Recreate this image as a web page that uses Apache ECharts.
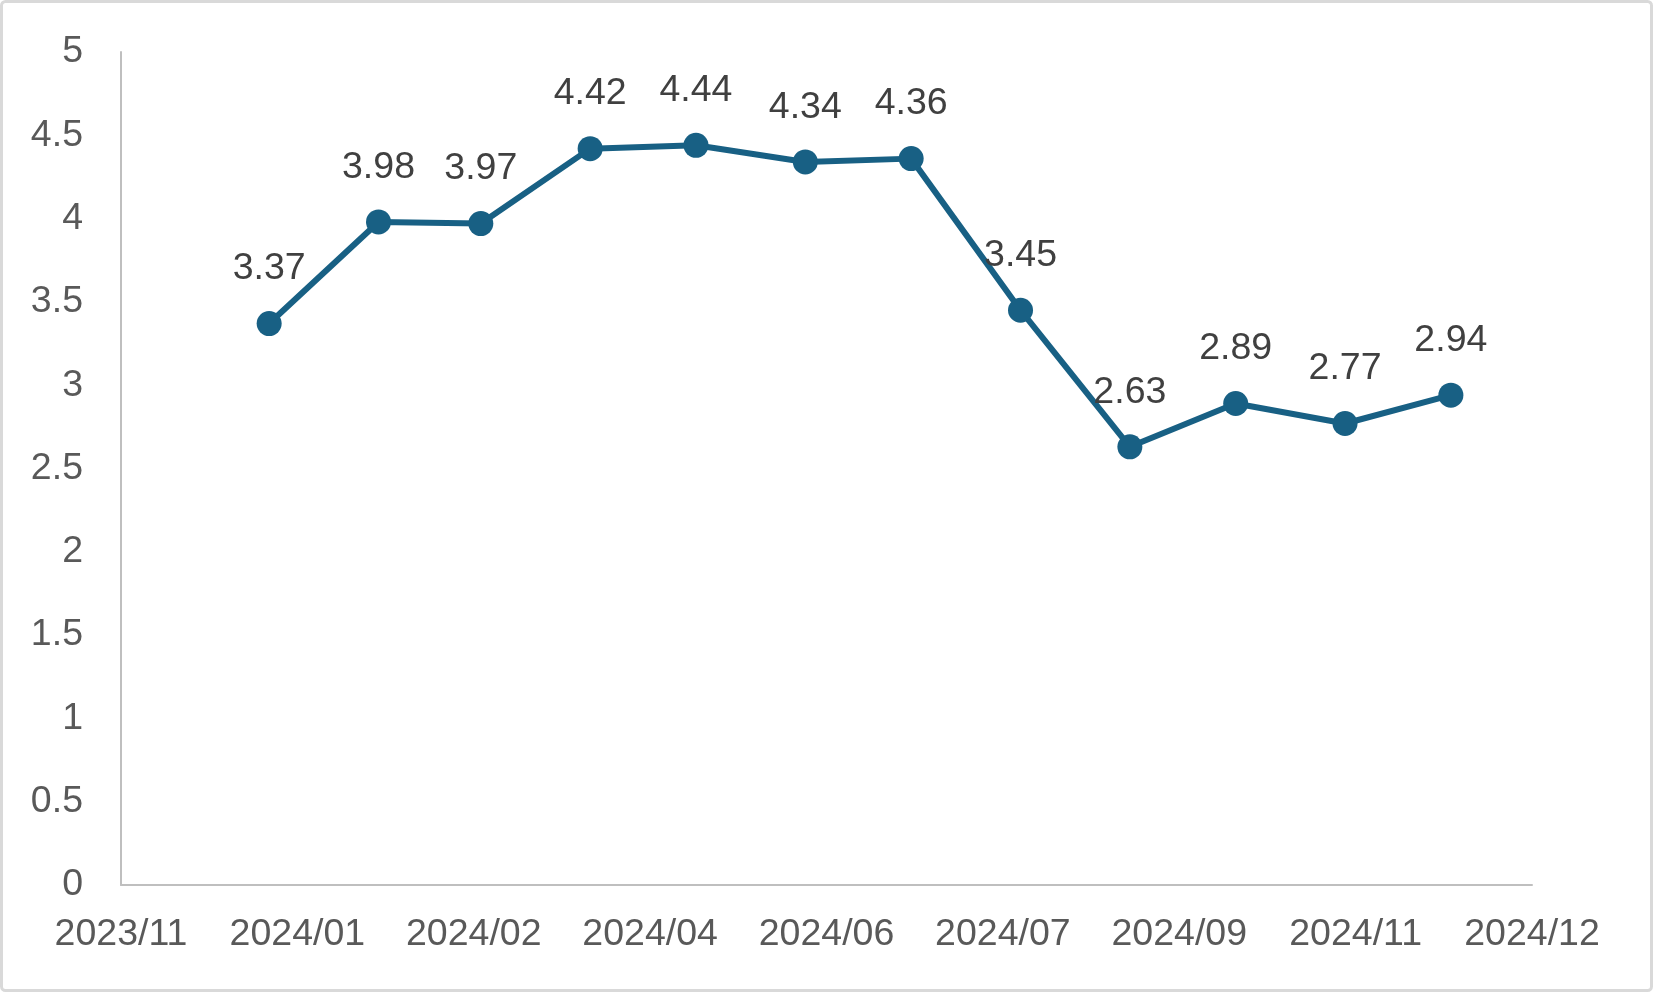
<!DOCTYPE html>
<html>
<head>
<meta charset="utf-8">
<script src="https://cdn.jsdelivr.net/npm/echarts@6/dist/echarts.min.js"></script>
<style>
html,body{margin:0;padding:0;background:#fff;}
#chart{width:1653px;height:992px;}
</style>
</head>
<body>
<div id="chart"></div>
<script>
// Data
const dates = ['2024-01-01','2024-02-01','2024-03-01','2024-04-01','2024-05-01','2024-06-01',
               '2024-07-01','2024-08-01','2024-09-01','2024-10-01','2024-11-01','2024-12-01'];
const values = [3.37, 3.98, 3.97, 4.42, 4.44, 4.34, 4.36, 3.45, 2.63, 2.89, 2.77, 2.94];
// Date axis (Excel-style): starts 2023-11-20, major unit 50 days
const axisStart = '2023-11-20';
const axisDays = 400;
const axisStepDays = 50;
const yTicks = [0, 0.5, 1, 1.5, 2, 2.5, 3, 3.5, 4, 4.5, 5];

const DAY = 86400000;
function parseUTC(s){ const p = s.split('-').map(Number); return Date.UTC(p[0], p[1]-1, p[2]); }
const origin = parseUTC(axisStart);
function dayNum(s){ return Math.round((parseUTC(s) - origin) / DAY); }
function fmt(d){
  const dt = new Date(origin + d * DAY);
  const m = dt.getUTCMonth() + 1;
  return dt.getUTCFullYear() + '/' + (m < 10 ? '0' + m : m);
}
const seriesData = dates.map((d, i) => [dayNum(d), values[i]]);

const chart = echarts.init(document.getElementById('chart'));
const FONT = 'Liberation Sans, Arial, sans-serif';
chart.setOption({
  animation: false,
  backgroundColor: '#ffffff',
  graphic: [{
    type: 'rect',
    shape: {x: 1.5, y: 1.5, width: 1650, height: 989, r: 4},
    style: {fill: 'none', stroke: '#d9d9d9', lineWidth: 3},
    silent: true
  }],
  grid: {left: 121, right: 121, top: 52, bottom: 107, containLabel: false},
  xAxis: {
    type: 'value',
    min: 0,
    max: axisDays,
    interval: axisStepDays,
    axisLine: {show: true, lineStyle: {color: '#bfbfbf', width: 2}},
    axisTick: {show: false},
    splitLine: {show: false},
    axisLabel: {
      formatter: v => fmt(v),
      color: '#595959',
      fontSize: 37.5,
      fontFamily: FONT,
      margin: 31,
      showMinLabel: true,
      showMaxLabel: true
    }
  },
  yAxis: {
    type: 'value',
    min: yTicks[0],
    max: yTicks[yTicks.length - 1],
    interval: yTicks[1] - yTicks[0],
    axisLine: {show: true, lineStyle: {color: '#bfbfbf', width: 2}},
    axisTick: {show: false},
    splitLine: {show: false},
    axisLabel: {
      color: '#595959',
      fontSize: 37.5,
      fontFamily: FONT,
      margin: 38
    }
  },
  series: [{
    type: 'line',
    data: seriesData,
    symbol: 'circle',
    symbolSize: 25,
    lineStyle: {color: '#186084', width: 6},
    itemStyle: {color: '#186084'},
    label: {
      show: true,
      position: 'top',
      distance: 23,
      color: '#404040',
      fontSize: 37.5,
      fontFamily: FONT,
      formatter: p => p.value[1].toFixed(2)
    }
  }]
});
</script>
</body>
</html>
